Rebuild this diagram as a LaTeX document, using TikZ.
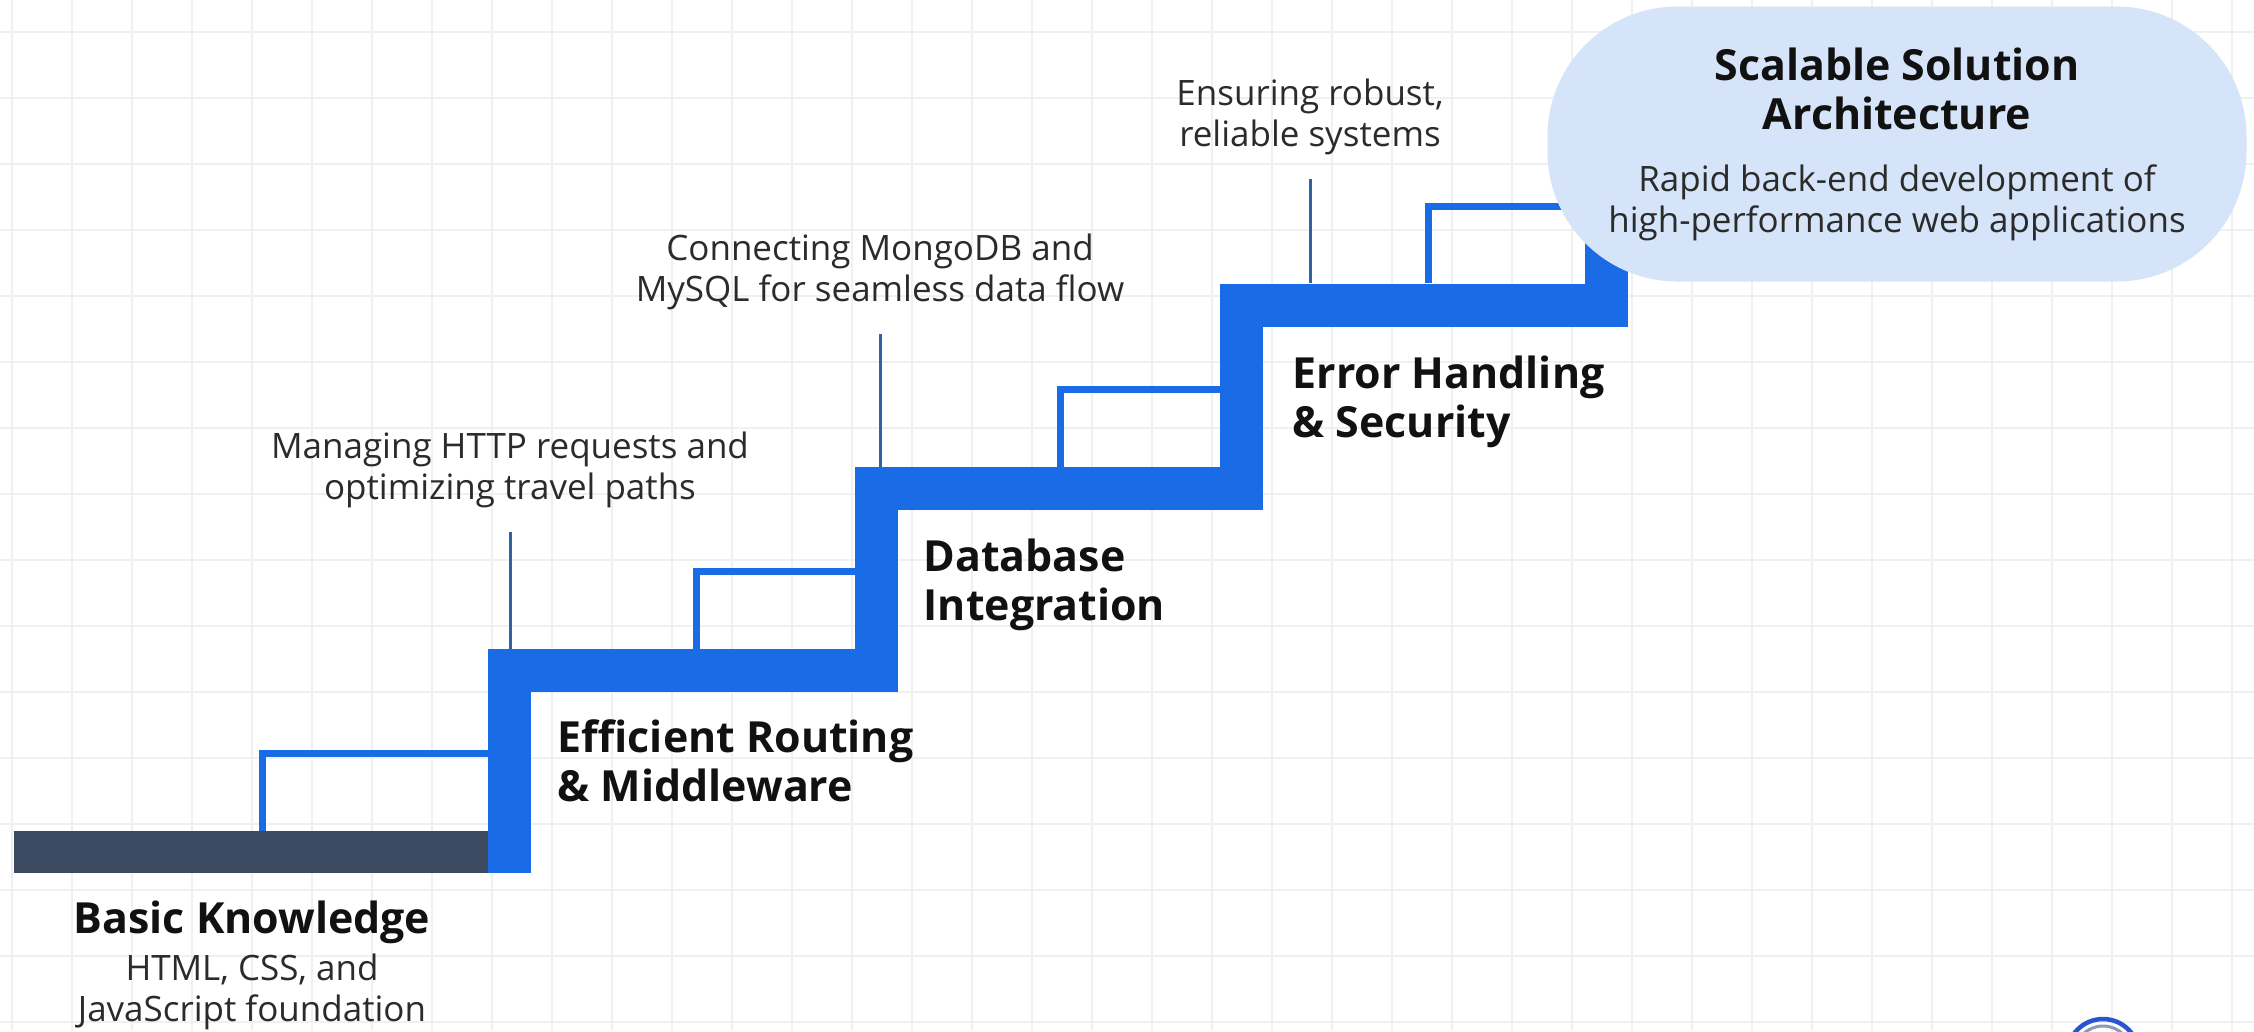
\documentclass[tikz,border=0pt]{standalone}
\usepackage{fontspec}
\setmainfont{Open Sans}
\usetikzlibrary{positioning}

\definecolor{stairblue}{HTML}{1A6BE6}
\definecolor{slatebar}{HTML}{3B4A60}
\definecolor{pointcol}{HTML}{2F63A6}
\definecolor{goalfill}{HTML}{D5E4F8}
\definecolor{titlecol}{HTML}{111111}
\definecolor{notecol}{HTML}{2B2B2B}
\definecolor{gridcol}{HTML}{F0F0F0}
\definecolor{logoblue}{HTML}{2A55D0}
\definecolor{logogray}{HTML}{8A9BB8}

\begin{document}
\begin{tikzpicture}[x=0.1mm, y=-0.1mm,
  steptitle/.style={font=\bfseries\fontsize{12.2}{14}\selectfont,
                    text=titlecol, align=left, inner sep=0pt},
  stepnote/.style={font=\fontsize{9.95}{11.6}\selectfont,
                   text=notecol, align=center, inner sep=0pt},
  stair/.style={draw=stairblue, line width=4.3mm, line join=miter},
  rail/.style={draw=stairblue, line width=0.7mm, line join=miter},
  pointer/.style={draw=pointcol, line width=0.3mm, shorten <=2.4mm},
  goalbox/.style={fill=goalfill, draw=none, minimum width=69.9mm,
                  minimum height=27.5mm, rounded corners=13mm, inner sep=0pt}]

 % Page and background grid
 \useasboundingbox (0,0) rectangle (2254,1031);
 \fill[white] (0,0) rectangle (2254,1031);
 \foreach \gx in {12,72,...,2254}
   \draw[gridcol, line width=0.2mm] (\gx,0) -- (\gx,1031);
 \foreach \gy in {32,98,...,1031}
   \draw[gridcol, line width=0.2mm] (0,\gy) -- (2254,\gy);

 % The staircase
 \draw[slatebar, line width=4.2mm] (14,852) -- (488,852);
 \draw[stair] (509,873) -- (509,670.5) -- (876.5,670.5) -- (876.5,488.5)
   -- (1241.5,488.5) -- (1241.5,305) -- (1606.5,305) -- (1606.5,150);

 % Rails on every step
 \draw[rail] (262,831) -- (262,753) -- (488,753);
 \draw[rail] (696,649) -- (696,571) -- (855,571);
 \draw[rail] (1060,467) -- (1060,389) -- (1220,389);
 \draw[rail] (1428,283) -- (1428,206) -- (1600,206);

 % Landing points of the notes
 \coordinate (land1) at (510,649);
 \coordinate (land2) at (880,467);
 \coordinate (land3) at (1310,283);

 % Goal at the top
 \node[goalbox] (goal) at (1897,144) {};
 \node[steptitle,
       align=center,
       below=4.1mm of goal.north] (goaltitle) {Scalable Solution\\Architecture};
 \node[stepnote,
       below=3.4mm of goaltitle] (goalnote) {Rapid back-end development of\\high-performance web applications};

 % Step titles
 \node[steptitle, anchor=north, align=center] (basic) at (252,900) {Basic Knowledge};
 \node[stepnote,
       below=0.9mm of basic] (basicnote) {HTML, CSS, and\\JavaScript foundation};
 \node[steptitle, anchor=north west] (routing) at (557,719) {Efficient Routing\\\& Middleware};
 \node[steptitle, anchor=north west] (database) at (923,538) {Database\\Integration};
 \node[steptitle, anchor=north west] (security) at (1292,355) {Error Handling\\\& Security};

 % Notes above the steps
 \node[stepnote, anchor=north] (httpnote) at (510,431) {Managing HTTP requests and\\optimizing travel paths};
 \node[stepnote, anchor=north] (dbnote) at (880,233) {Connecting MongoDB and\\MySQL for seamless data flow};
 \node[stepnote, anchor=north] (securenote) at (1310,78) {Ensuring robust,\\reliable systems};

 % Connect the notes with their steps
 \draw[pointer] (httpnote.south) -- (land1);
 \draw[pointer] (dbnote.south) -- (land2);
 \draw[pointer] (securenote.south) -- (land3);

 % Logo in the corner
 \draw[logoblue, line width=0.45mm] (2103,1055) circle[radius=3.6mm];
 \draw[logogray, line width=0.3mm] (2103,1055) circle[radius=2.9mm];
\end{tikzpicture}
\end{document}
